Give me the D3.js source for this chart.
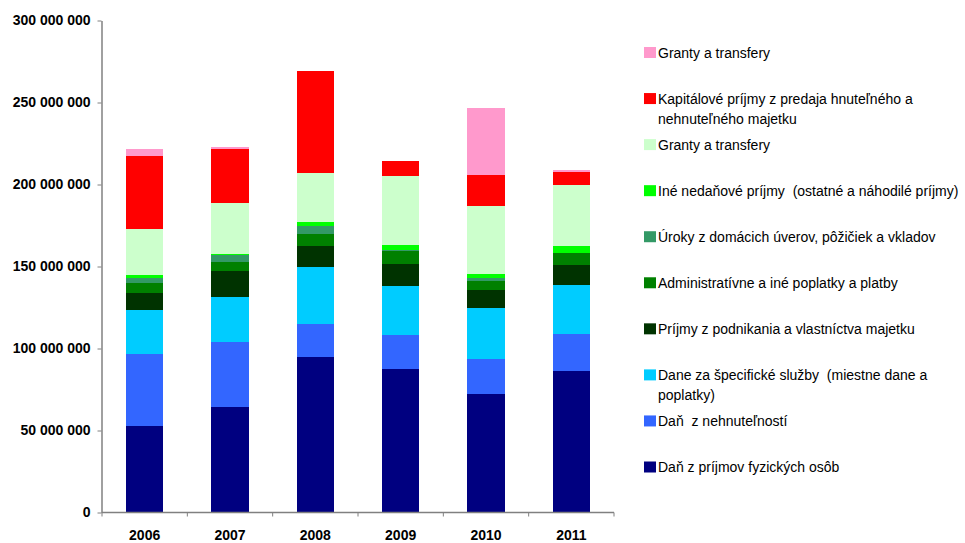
<!DOCTYPE html>
<html>
<head>
<meta charset="utf-8">
<script src="https://cdn.jsdelivr.net/npm/d3@7"></script>
<style>
  html, body { margin: 0; padding: 0; background: #fff; }
  svg { display: block; font-family: "Liberation Sans", Arial, sans-serif; }
  text { white-space: pre; }
</style>
</head>
<body>
<svg id="chart" width="965" height="543"></svg>
<script>
// ---- data (values in millions) ----
const years = ["2006", "2007", "2008", "2009", "2010", "2011"];

// series, bottom to top of stack
const seriesNames = [
  "Daň z príjmov fyzických osôb",
  "Daň  z nehnuteľností",
  "Dane za špecifické služby  (miestne dane a\npoplatky)",
  "Príjmy z podnikania a vlastníctva majetku",
  "Administratívne a iné poplatky a platby",
  "Úroky z domácich úverov, pôžičiek a vkladov",
  "Iné nedaňové príjmy  (ostatné a náhodilé príjmy)",
  "Granty a transfery",
  "Kapitálové príjmy z predaja hnuteľného a\nnehnuteľného majetku",
  "Granty a transfery"
];
const seriesColors = ["#000080", "#3366FF", "#00CCFF", "#003300", "#008000",
                      "#339966", "#00FF00", "#CCFFCC", "#FF0000", "#FF99CC"];

const danPrijmy      = [53.0, 64.6, 95.1, 87.8, 72.0, 86.0];
const danNehnutelnosti = [43.9, 39.6, 20.1, 20.7, 21.3, 22.6];
const daneSluzby     = [26.8, 27.4, 34.8, 29.9, 31.1, 29.9];
const prijmyPodnikania = [10.4, 15.9, 12.8, 13.4, 11.0, 12.2];
const administrativne = [6.1, 5.5, 7.3, 7.9, 5.5, 7.3];
const uroky          = [3.0, 4.3, 4.9, 0.6, 1.8, 0.3];
const ineNedanove    = [1.8, 0.6, 2.4, 3.0, 3.0, 4.3];
const granty1        = [28.0, 31.1, 29.9, 42.1, 40.9, 37.2];
const kapitalove     = [44.5, 32.9, 62.2, 9.1, 18.9, 7.9];
const granty2        = [4.3, 1.2, 0.0, 0.0, 40.9, 1.2];

const seriesValues = [danPrijmy, danNehnutelnosti, daneSluzby, prijmyPodnikania,
  administrativne, uroky, ineNedanove, granty1, kapitalove, granty2];

const yTicks = [0, 50e6, 100e6, 150e6, 200e6, 250e6, 300e6];

// ---- build table ----
const keys = seriesNames.map((_, i) => "s" + i);
const table = years.map((yr, j) => {
  const row = { year: yr };
  seriesValues.forEach((arr, i) => { row[keys[i]] = arr[j] * 1e6; });
  return row;
});
const stacked = d3.stack().keys(keys)(table);

// ---- layout ----
const svg = d3.select("#chart");
const x = d3.scaleBand().domain(years).range([102, 614]).paddingInner(0.566).paddingOuter(0.283);
const y = d3.scaleLinear().domain([0, 300e6]).range([512.5, 20.5]);

// bars
svg.append("g").selectAll("g")
  .data(stacked).join("g")
  .attr("fill", (d, i) => seriesColors[i])
  .selectAll("rect")
  .data(d => d).join("rect")
  .attr("x", d => x(d.data.year))
  .attr("width", x.bandwidth())
  .attr("y", d => y(d[1]))
  .attr("height", d => Math.max(0, y(d[0]) - y(d[1])))
  .attr("shape-rendering", "crispEdges");

// y axis
const fmt = v => d3.format(",")(v).replace(/,/g, " ");
const yAxis = svg.append("g")
  .attr("transform", "translate(101.5,0)")
  .call(d3.axisLeft(y).tickValues(yTicks).tickFormat(fmt).tickSize(4).tickPadding(7).tickSizeOuter(0));
yAxis.select(".domain").attr("stroke", "#808080").attr("stroke-width", 1.5);
yAxis.selectAll(".tick line").attr("stroke", "#808080");
yAxis.selectAll(".tick text")
  .attr("fill", "#000").attr("font-size", 14).attr("font-weight", "bold")
  .attr("font-family", "Liberation Sans, Arial, sans-serif");

// x axis
const xAxisG = svg.append("g").attr("transform", "translate(0,512.5)");
xAxisG.append("line")
  .attr("x1", x.range()[0]).attr("x2", x.range()[1])
  .attr("stroke", "#808080").attr("stroke-width", 1.5);
const boundaries = years.map((yr, i) => x.range()[0] + i * x.step());
boundaries.push(x.range()[1]);
xAxisG.selectAll("line.tk").data(boundaries).join("line")
  .attr("class", "tk")
  .attr("x1", d => d).attr("x2", d => d)
  .attr("y1", 0).attr("y2", 4)
  .attr("stroke", "#808080");
xAxisG.selectAll("text").data(years).join("text")
  .attr("x", d => x(d) + x.bandwidth() / 2)
  .attr("y", 27)
  .attr("text-anchor", "middle")
  .attr("font-size", 14).attr("font-weight", "bold")
  .text(d => d);

// legend (top to bottom = reverse stack order)
const legendOrder = d3.range(seriesNames.length).reverse();
const ly = d3.scaleLinear().domain([0, legendOrder.length - 1]).range([52.5, 467]);
const legend = svg.append("g");
legendOrder.forEach((si, row) => {
  const cy = ly(row);
  legend.append("rect")
    .attr("x", 644).attr("y", cy - 5.5)
    .attr("width", 12).attr("height", 11)
    .attr("fill", seriesColors[si]);
  const lines = seriesNames[si].split("\n");
  lines.forEach((ln, k) => {
    legend.append("text")
      .attr("x", 658).attr("y", cy + 5 + k * 20.5)
      .attr("font-size", 14)
      .attr("fill", "#000")
      .text(ln);
  });
});
</script>
</body>
</html>
